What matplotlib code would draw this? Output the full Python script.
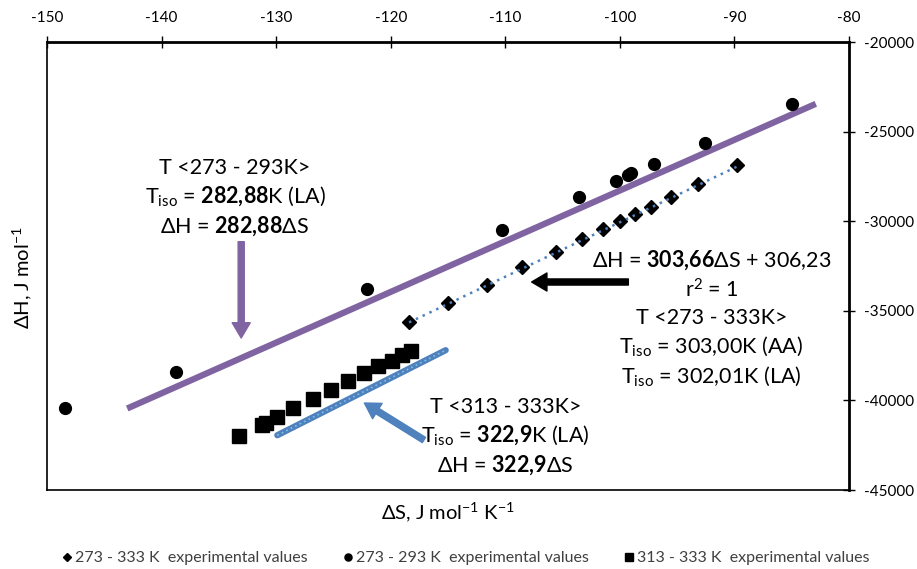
import matplotlib.pyplot as plt

plt.rcParams['font.family'] = ['Lato', 'DejaVu Sans']
plt.rcParams['mathtext.fontset'] = 'custom'
plt.rcParams['mathtext.rm'] = 'Lato'
plt.rcParams['mathtext.bf'] = 'Lato:bold'
plt.rcParams['mathtext.it'] = 'Lato:italic'
plt.rcParams['axes.unicode_minus'] = False

# 273 - 333 K experimental values (diamonds)
dS_a = [-118.4, -115.0, -111.6, -108.5, -105.6, -103.3, -101.5, -100.0, -98.7, -97.3, -95.5, -93.2, -89.8]
dH_a = [-35625, -34581, -33560, -32573, -31736, -30993, -30452, -29972, -29615, -29191, -28667, -27941, -26881]

# 273 - 293 K experimental values (circles)
dS_b = [-148.4, -138.7, -122.1, -110.3, -103.6, -100.3, -99.3, -99.0, -97.0, -92.6, -85.0]
dH_b = [-40424, -38415, -33783, -30491, -28650, -27757, -27422, -27310, -26808, -25636, -23460]

# 313 - 333 K experimental values (squares)
dS_c = [-133.2, -131.2, -130.9, -129.9, -128.5, -126.8, -125.2, -123.7, -122.3, -121.1, -119.9, -119.0, -118.2]
dH_c = [-41987, -41373, -41244, -40910, -40441, -39922, -39420, -38917, -38454, -38080, -37785, -37467, -37227]

# fitted lines (slope, intercept, x range)
fit_a = (303.66, 306.23, [-118.4, -89.8])
fit_b = (282.88, 0.0, [-143.0, -82.9])
fit_c = (322.9, 0.0, [-129.9, -115.2])

xticks = [-150, -140, -130, -120, -110, -100, -90, -80]
yticks = [-45000, -40000, -35000, -30000, -25000, -20000]

purple = '#8064A2'
blue = '#4F81BD'

fig = plt.figure(figsize=(9.17, 5.69), dpi=100)
ax = fig.add_axes([47/917, 1-490/569, 802/917, 448/569])

def line(fit):
    k, b, xs = fit
    return xs, [k*x + b for x in xs]

# trend lines
x, y = line(fit_b)
ax.plot(x, y, color=purple, lw=4.5, solid_capstyle='butt', zorder=2)
x, y = line(fit_c)
ax.plot(x, y, color=blue, lw=4.5, solid_capstyle='round', zorder=2)
ax.plot(x, y, color='#7cc3e6', lw=1.2, ls=(0, (1, 2)), zorder=3)

# markers
ax.plot(dS_a, dH_a, 'D', color='black', ms=7, ls='none', zorder=4,
        label='273 - 333 K  experimental values')
ax.plot(dS_b, dH_b, 'o', color='black', ms=8.5, ls='none', zorder=4,
        label='273 - 293 K  experimental values')
ax.plot(dS_c, dH_c, 's', color='black', ms=10, ls='none', zorder=4,
        label='313 - 333 K  experimental values')

x, y = line(fit_a)
ax.plot(x, y, color=blue, lw=1.8, ls=(0, (1, 2)), zorder=5)

ax.set_xlim(-150, -80)
ax.set_ylim(-45000, -20000)
ax.set_xticks(xticks)
ax.set_yticks(yticks)
ax.xaxis.tick_top()
ax.yaxis.tick_right()
ax.tick_params(direction='inout', length=9, width=1, labelsize=11, colors='black')
ax.tick_params(axis='x', pad=8)
ax.tick_params(axis='y', pad=6)
for s in ax.spines.values():
    s.set_linewidth(1.2)
ax.spines['top'].set_linewidth(2)
ax.spines['right'].set_linewidth(2)

ax.text(0.5, -0.05, 'ΔS, J mol$^{\\mathrm{-1}}$ K$^{\\mathrm{-1}}$', transform=ax.transAxes,
        ha='center', va='center', fontsize=14.5)
fig.text(22/917, 1-278/569, 'ΔH, J mol$^{\\mathrm{-1}}$', rotation=90,
         ha='center', va='center', fontsize=14.5)

# annotations
fs = 15.5
ls = 1.35
ax.text(-133.6, -28705,
        'T <273 - 293K>\n' + r'T$_{\rm iso}$ = $\mathbf{282{,}88}$K (LA)' + '\n' + r'ΔH = $\mathbf{282{,}88}$ΔS',
        ha='center', va='center', fontsize=fs, linespacing=ls)
ax.text(-92.0, -35402,
        r'ΔH = $\mathbf{303{,}66}$ΔS + 306,23' + '\n' + r'r$^{2}$ = 1' + '\n' + 'T <273 - 333K>\n'
        + r'T$_{\rm iso}$ = 303,00K (AA)' + '\n' + r'T$_{\rm iso}$ = 302,01K (LA)',
        ha='center', va='center', fontsize=fs, linespacing=ls)
ax.text(-110.0, -42042,
        'T <313 - 333K>\n' + r'T$_{\rm iso}$ = $\mathbf{322{,}9}$K (LA)' + '\n' + r'ΔH = $\mathbf{322{,}9}$ΔS',
        ha='center', va='center', fontsize=fs, linespacing=ls)

arrow = 'simple,head_length=0.55,head_width=0.65,tail_width=0.22'
ax.annotate('', xy=(-133.05, -36518), xytext=(-133.05, -31144),
            arrowprops=dict(arrowstyle=arrow, color=purple, mutation_scale=20, shrinkA=0, shrinkB=0))
ax.annotate('', xy=(-107.7, -33393), xytext=(-99.26, -33393),
            arrowprops=dict(arrowstyle=arrow, color='black', mutation_scale=20, shrinkA=0, shrinkB=0))
ax.annotate('', xy=(-122.3, -40145), xytext=(-117.1, -42210),
            arrowprops=dict(arrowstyle=arrow, color=blue, mutation_scale=20, shrinkA=0, shrinkB=0))

leg = fig.legend(loc='center', bbox_to_anchor=(466/917, 1-558/569), ncol=3, frameon=False,
                 fontsize=11.5, handlelength=0.6, handletextpad=0.2, columnspacing=2.2,
                 markerscale=0.6)
for t in leg.get_texts():
    t.set_color('#404040')

fig.savefig('out.png', dpi=100)
